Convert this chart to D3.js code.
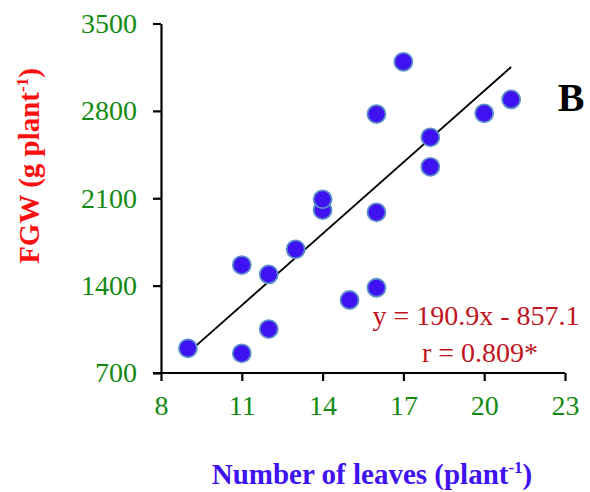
<!DOCTYPE html>
<html>
<head>
<meta charset="utf-8">
<script src="https://cdn.jsdelivr.net/npm/d3@7"></script>
<style>
  body { margin: 0; background: #fff; }
  svg text { font-family: "Liberation Serif", "Times New Roman", serif; }
</style>
</head>
<body>
<svg id="chart"></svg>
<script>
// Number of leaves per plant vs FGW (g per plant)
const leaves = [9, 11, 11, 12, 12, 13, 14, 14, 15, 16, 16, 16, 17, 18, 18, 20, 21]
const fgw = [898, 858, 1565, 1052, 1490, 1691, 2005, 2091, 1285, 1383, 1987, 2774, 3193, 2352, 2588, 2780, 2892]
const xTicks = [8, 11, 14, 17, 20, 23]
const yTicks = [700, 1400, 2100, 2800, 3500]
const slope = 190.9, intercept = -857.1 // fitted line shown on the chart
const eqLabel = "y = 190.9x - 857.1"
const rLabel = "r = 0.809*"

let margin = {left: 161, top: 23.5, right: 25, bottom: 119} // space round the plot area
let svgWidth = 590, svgHeight = 492
let width = svgWidth - margin.left - margin.right
let height = svgHeight - margin.top - margin.bottom

let svg = d3.select("#chart")
    .attr("width", svgWidth)
    .attr("height", svgHeight)

let g = svg.append("g")
    .attr("transform", `translate(${margin.left}, ${margin.top})`)

let xScale = d3.scaleLinear().domain([8, 23]).range([0, width])
let yScale = d3.scaleLinear().domain([700, 3500]).range([height, 0])

let xAxis = d3.axisBottom(xScale).tickValues(xTicks).tickFormat(d3.format("d"))
    .tickSize(8).tickSizeOuter(0).tickPadding(14)
let yAxis = d3.axisLeft(yScale).tickValues(yTicks).tickFormat(d3.format("d"))
    .tickSize(8).tickSizeOuter(0).tickPadding(16)

let gx = g.append("g")
    .attr("transform", `translate(0, ${height})`)
    .call(xAxis)
gx.select(".domain").attr("d", `M-8,0H${width}`)

let gy = g.append("g").call(yAxis)

for (let ax of [gx, gy]) {
    ax.attr("font-family", null).attr("font-size", null)
    ax.selectAll(".domain, .tick line").attr("stroke", "#000").attr("stroke-width", 2.2)
    ax.selectAll(".tick text")
        .attr("fill", "#138a13")
        .style("font-size", "28px")
}
gx.selectAll(".tick text").attr("dy", "0.71em")

// regression line across the observed range
let xr = d3.extent(leaves)
g.append("line")
    .attr("x1", xScale(xr[0]))
    .attr("y1", yScale(slope * xr[0] + intercept))
    .attr("x2", xScale(xr[1]))
    .attr("y2", yScale(slope * xr[1] + intercept))
    .attr("stroke", "#000")
    .attr("stroke-width", 1.8)

// data points
g.selectAll("circle")
    .data(leaves.map((d, i) => [d, fgw[i]]))
    .enter()
    .append("circle")
    .attr("cx", d => xScale(d[0]))
    .attr("cy", d => yScale(d[1]))
    .attr("r", 9)
    .attr("fill", "#3f12f2")
    .attr("stroke", "#5b8ec9")
    .attr("stroke-width", 1.8)

// equation text
let eq = g.append("text")
    .attr("text-anchor", "middle")
    .attr("fill", "#c0141e")
    .style("font-size", "28px")
eq.append("tspan").attr("x", 476 - margin.left).attr("y", 325 - margin.top).text(eqLabel)
eq.append("tspan").attr("x", 480 - margin.left).attr("y", 362 - margin.top).text(rLabel)

// panel letter
svg.append("text")
    .attr("x", 571).attr("y", 111)
    .attr("text-anchor", "middle")
    .style("font-size", "40px")
    .attr("font-weight", "bold")
    .attr("fill", "#000")
    .text("B")

// axis titles
let xt = svg.append("text")
    .attr("x", 372).attr("y", 484)
    .attr("text-anchor", "middle")
    .style("font-size", "29px")
    .attr("font-weight", "bold")
    .attr("fill", "#3f12f2")
xt.append("tspan").text("Number of leaves (plant")
xt.append("tspan").style("font-size", "17px").attr("dy", -11).text("-1")
xt.append("tspan").attr("dy", 11).text(")")

let yt = svg.append("text")
    .attr("transform", "translate(39, 166) rotate(-90)")
    .attr("text-anchor", "middle")
    .style("font-size", "29px")
    .attr("font-weight", "bold")
    .attr("fill", "#ff1010")
yt.append("tspan").text("FGW (g plant")
yt.append("tspan").style("font-size", "17px").attr("dy", -11).text("-1")
yt.append("tspan").attr("dy", 11).text(")")
</script>
</body>
</html>
